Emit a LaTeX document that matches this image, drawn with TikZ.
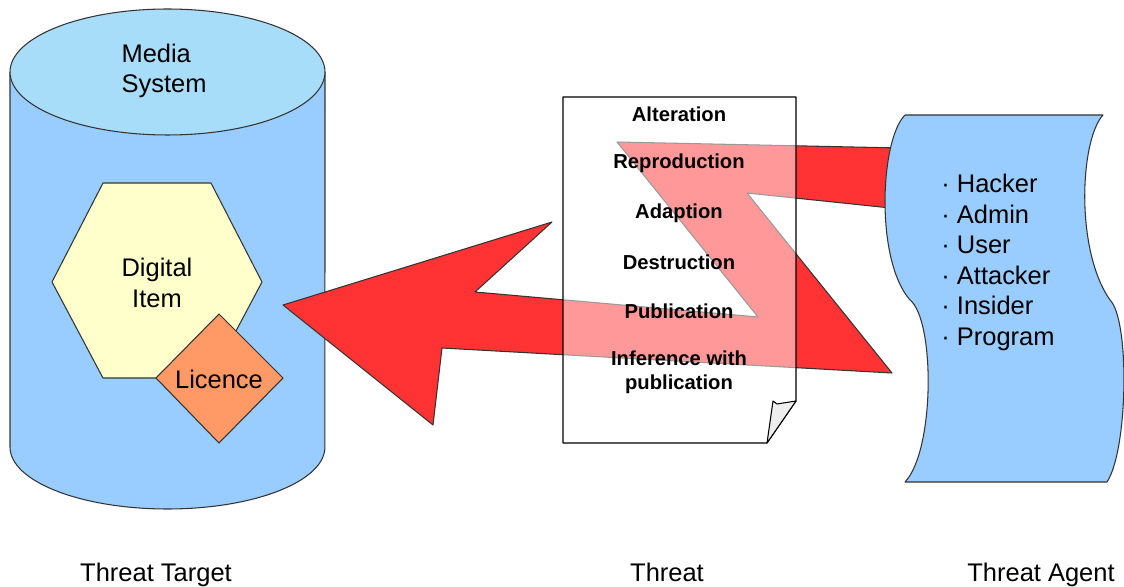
\documentclass[tikz,border=0pt]{standalone}
\usepackage{fontspec}
\setmainfont{Liberation Sans}
\definecolor{cylblue}{HTML}{99CCFF}
\definecolor{cyltop}{HTML}{A8DDFA}
\definecolor{itemyellow}{HTML}{FFFFCC}
\definecolor{licorange}{HTML}{FF9966}
\definecolor{threatred}{HTML}{FF3333}
\definecolor{foldgray}{HTML}{EEEEEE}

\begin{document}
\begin{tikzpicture}[x=0.02cm,y=-0.02cm,line join=round,
    outl/.style={draw=black!80,line width=0.6pt},
    plain/.style={font=\fontsize{14.5}{17.4}\selectfont},
    threatitem/.style={font=\fontsize{11.5}{13.6}\selectfont\bfseries,align=center}]
		\useasboundingbox (0,0) rectangle (1124,587);
		% media system (cylinder)
		\draw[outl,fill=cylblue] (10,72) -- (10,447) arc[start angle=180,end angle=360,x radius=3.15cm,y radius=1.24cm] -- (325,72) -- cycle;
		\draw[outl,fill=cyltop] (167.5,72) ellipse [x radius=3.15cm,y radius=1.26cm];
		\node[plain,align=left] (media) at (164,71) {Media\\System};
		% digital item and licence
		\draw[outl,fill=itemyellow] (103,183) -- (211,183) -- (262,282) -- (211,378) -- (103,378) -- (52,282) -- cycle;
		\node[plain,align=center] (item) at (157,283) {Digital\\Item};
		\draw[outl,fill=licorange] (219,314) -- (283,378) -- (219,443) -- (156,378) -- cycle;
		\node[plain] (licence) at (219,379) {Licence};
		% threat arrow
		\draw[outl,fill=threatred] (283,305) -- (552,222) -- (475,292) -- (758,317) -- (617,142) -- (900,148)
		    -- (900,209) -- (747,193) -- (892,373) -- (442,348) -- (433,425) -- cycle;
		% threat agent
		\draw[outl,fill=cylblue] (905,115) -- (1103,115) .. controls (1080,140) and (1075,250) .. (1110,300)
		    .. controls (1130,320) and (1128,450) .. (1107,482) -- (905,482)
		    .. controls (935,450) and (935,320) .. (910,300) .. controls (875,260) and (880,140) .. (905,115);
		\node[plain,align=left] (agents) at (998,262.5) {· Hacker\\· Admin\\· User\\· Attacker\\· Insider\\· Program};
		% threat (document)
		\draw[draw=black,line width=0.6pt,fill=white,fill opacity=0.5] (563,97) -- (796,97) -- (796,401) -- (767,443) -- (563,443) -- cycle;
		\draw[draw=black,line width=0.6pt,fill=foldgray] (767,443) -- (773,401) -- (777,404) -- (796,401) -- cycle;
		\node[threatitem] (alteration) at (679,114) {Alteration};
		\node[threatitem] (reproduction) at (679,163) {Reproduction};
		\node[threatitem] (adaption) at (679,213) {Adaption};
		\node[threatitem] (destruction) at (679,262) {Destruction};
		\node[threatitem] (publication) at (679,311) {Publication};
		\node[threatitem] (inference) at (679,372) {Inference with\\publication};
		% captions
		\node[plain,anchor=base] (target) at (156,581) {Threat Target};
		\node[plain,anchor=base] (threat) at (667,581) {Threat};
		\node[plain,anchor=base] (agent) at (1041,581) {Threat Agent};
	\end{tikzpicture}
\end{document}
